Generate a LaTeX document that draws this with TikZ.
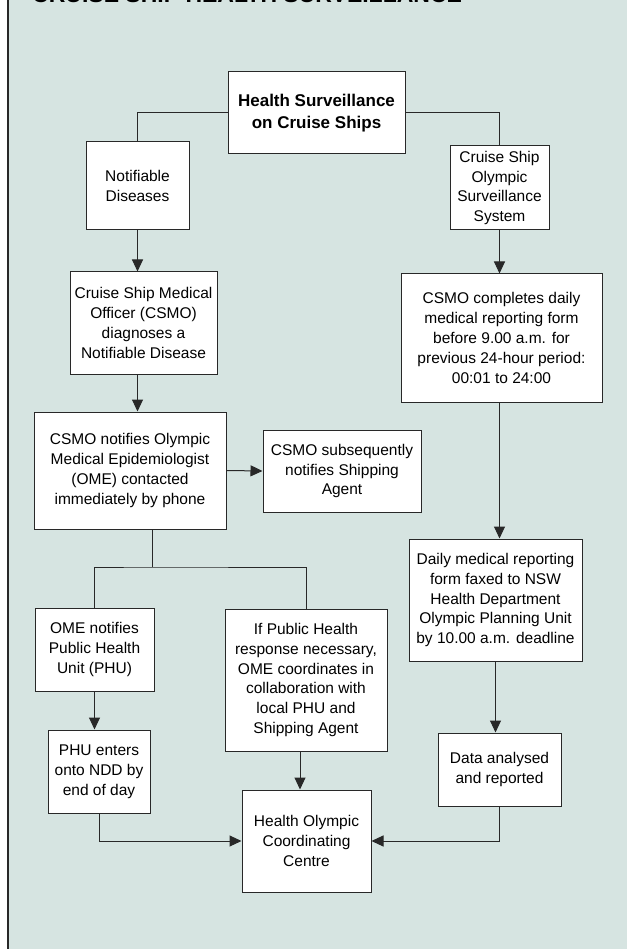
\documentclass[tikz,border=0pt]{standalone}
\usepackage{fontspec}
\setmainfont{Liberation Sans}
\usetikzlibrary{arrows.meta,calc}
\definecolor{bg}{RGB}{214,228,225}
\definecolor{ln}{RGB}{40,40,40}
\begin{document}
\begin{tikzpicture}[x=1pt,y=-1pt,
  box/.style={draw=ln, line width=1pt, fill=white, align=center, inner sep=0pt,
    font=\fontsize{15.5}{19.8}\selectfont},
  boldbox/.style={box, font=\fontsize{17}{22}\selectfont\bfseries},
  conn/.style={draw=ln, line width=1pt},
  arr/.style={conn, -{Triangle[length=12pt,width=11pt]}}]
\useasboundingbox (0,0) rectangle (627,949);
\clip (0,0) rectangle (627,949);
\fill[white] (0,0) rectangle (627,949);
\fill[bg] (7,0) rectangle (627,949);
\draw[ln, line width=2pt] (7.5,0) -- (7.5,949);
\node[anchor=base west, inner sep=0pt, font=\fontsize{23}{27}\selectfont\bfseries] (title) at (32,3) {CRUISE SHIP HEALTH SURVEILLANCE};

% boxes
\node[boldbox, minimum width=177pt, minimum height=82pt] (top) at (316.5,113) {Health Surveillance\\on Cruise Ships};
\node[box, minimum width=103pt, minimum height=88pt] (notif) at (137.5,186) {Notifiable\\Diseases};
\node[box, minimum width=99pt, minimum height=84pt] (olymp) at (499.5,188) {Cruise Ship\\Olympic\\Surveillance\\System};
\node[box, minimum width=147pt, minimum height=102pt] (diag) at (143.5,323) {Cruise Ship Medical\\Officer (CSMO)\\diagnoses a\\Notifiable Disease};
\node[box, minimum width=201pt, minimum height=128pt] (compl) at (501.5,338) {CSMO completes daily\\medical reporting form\\before 9.00 a.m. for\\previous 24-hour period:\\00:01 to 24:00};
\node[box, minimum width=192pt, minimum height=117pt] (notifies) at (130,470.5) {CSMO notifies Olympic\\Medical Epidemiologist\\(OME) contacted\\immediately by phone};
\node[box, minimum width=158pt, minimum height=82pt] (subseq) at (342,471) {CSMO subsequently\\notifies Shipping\\Agent};
\node[box, minimum width=173pt, minimum height=122pt] (daily) at (495.5,600) {Daily medical reporting\\form faxed to NSW\\Health Department\\Olympic Planning Unit\\by 10.00 a.m. deadline};
\node[box, minimum width=119pt, minimum height=83pt] (ome) at (94.5,649.5) {OME notifies\\Public Health\\Unit (PHU)};
\node[box, minimum width=162pt, minimum height=142pt] (ifph) at (306,680) {If Public Health\\response necessary,\\OME coordinates in\\collaboration with\\local PHU and\\Shipping Agent};
\node[box, minimum width=102pt, minimum height=83pt] (phu) at (99,771.5) {PHU enters\\onto NDD by\\end of day};
\node[box, minimum width=123pt, minimum height=73pt] (data) at (499.5,769.5) {Data analysed\\and reported};
\node[box, minimum width=129pt, minimum height=102pt] (centre) at (306.5,841) {Health Olympic\\Coordinating\\Centre};

% connectors
\draw[conn] (top.west) -| (notif.north);
\draw[conn] (top.east) -| (olymp.north);
\draw[arr] (notif.south) -- (notif.south |- diag.north);
\draw[arr] (olymp.south) -- (olymp.south |- compl.north);
\draw[arr] (notif.south |- diag.south) -- (notif.south |- notifies.north);
\draw[arr] (notifies.east) -- (subseq.west);
\draw[arr] (olymp.south |- compl.south) -- (olymp.south |- daily.north);
\coordinate (br) at (152,567);
\draw[conn] (br |- notifies.south) -- (br);
\draw[conn] (ome.north) |- (br) -| (ifph.north);
\draw[arr] (ome.south) -- (ome.south |- phu.north);
\coordinate (ifx) at (300,0);
\draw[arr] (ifx |- ifph.south) -- (ifx |- centre.north);
\draw[arr] (phu.south) |- (centre.west);
\draw[arr] (daily.south) -- (daily.south |- data.north);
\draw[arr] (data.south) |- (centre.east);
\end{tikzpicture}
\end{document}
